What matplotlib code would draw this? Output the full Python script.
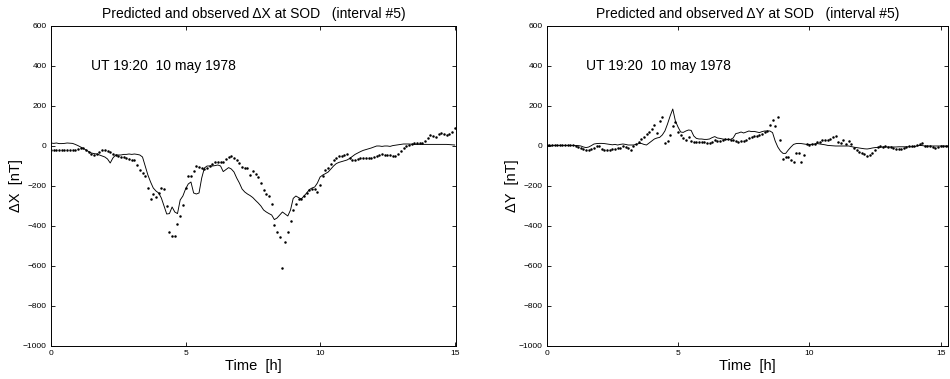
import numpy as np
import matplotlib
matplotlib.use("Agg")
import matplotlib.pyplot as plt

plt.rcParams['font.family'] = ['Liberation Sans', 'DejaVu Sans']

# ---- data (6-min samples, hours since UT 19:20) ----
dx_obs = [
    -18, -20, -20, -22, -22, -22, -20, -20, -18, -18, -15,
    -12, -10, -22, -30, -38, -45, -40, -30, -22, -18,
    -25, -30, -40, -45, -52, -55, -55, -60, -65, -70,
    -72, -95, -120, -135, -150, -210, -265, -240, -255, -235,
    -210, -215, -300, -430, -450, -450, -388, -350, -295, -210,
    -150, -150, -125, -100, -105, -110, -115, -110, -100, -88,
    -80, -78, -80, -78, -65, -55, -52, -58, -70, -85,
    -105, -110, -112, -145, -125, -140, -155, -185, -220, -240,
    -250, -290, -395, -430, -455, -610, -480, -430, -375, -320,
    -290, -265, -265, -250, -235, -220, -215, -215, -228, -195,
    -150, -120, -110, -90, -70, -58, -50, -48, -45, -40,
    -62, -72, -70, -65, -58, -60, -62, -60, -58, -56,
    -50, -45, -42, -44, -45, -46, -48, -50, -38, -25,
    -12, -2, 5, 12, 13, 13, 15, 17, 25, 38,
    55, 52, 47, 58, 67, 60, 55, 62, 72, 90,
]
dx_pred = [
    15, 13, 15, 12, 12, 13, 15, 14, 13, 8, 2,
    -5, -12, -20, -28, -35, -38, -40, -45, -50, -55,
    -65, -85, -60, -45, -45, -45, -42, -42, -40, -42,
    -40, -42, -45, -55, -100, -145, -180, -210, -225, -235,
    -260, -300, -340, -338, -305, -330, -338, -270, -250, -215,
    -190, -180, -235, -240, -235, -160, -110, -100, -100, -100,
    -98, -95, -100, -128, -118, -108, -115, -130, -160, -185,
    -215, -230, -240, -248, -258, -272, -285, -300, -320, -330,
    -338, -345, -368, -360, -345, -330, -340, -350, -320, -262,
    -250, -258, -265, -250, -235, -218, -210, -205, -185, -155,
    -145, -138, -130, -115, -100, -88, -82, -78, -74, -70,
    -62, -52, -42, -35, -28, -22, -18, -14, -10, -5,
    0, 0, -2, 0, 0, -2, 2, 4, 6, 8,
    10, 10, 10, 9, 8, 8, 8, 8, 8, 8,
    8, 8, 8, 8, 8, 8, 8, 7, 6, 5,
]
dy_obs = [
    5, 5, 4, 4, 4, 4, 5, 5, 6, 7, 6,
    2, -5, -10, -15, -18, -20, -16, -8, 0, 2,
    -15, -22, -20, -18, -16, -14, -12, -8, 0, -5,
    -12, -20, -2, 8, 20, 33, 45, 58, 72, 85,
    105, 65, 125, 145, 15, 27, 55, 100, 118, 72,
    55, 40, 30, 45, 25, 22, 20, 20, 18, 18,
    17, 17, 22, 28, 25, 25, 30, 33, 33, 30,
    28, 25, 22, 23, 25, 30, 42, 45, 48, 52,
    55, 62, 72, 75, 105, 132, 100, 143, 30, -67,
    -55, -57, -70, -80, -37, -33, -78, -45, 12, 5,
    8, 10, 18, 20, 30, 32, 28, 35, 43, 50,
    20, 15, 32, 12, 25, 10, -12, -18, -28, -35,
    -40, -52, -45, -35, -20, -5, -2, -3, -2, -3,
    -5, -12, -15, -17, -15, -12, -5, -2, 0, 2,
    5, 8, 13, 2, 0, -2, -3, -12, -5, 0,
    2, 0, -2,
]
dy_pred = [
    3, 3, 3, 3, 3, 3, 3, 3, 3, 3, 3,
    2, 2, 0, -5, -8, -5, 2, 10, 12, 13,
    13, 12, 10, 8, 6, 8, 5, 8, 10, 8,
    5, 5, 5, 8, 12, 13, 8, 5, 15, 25,
    35, 40, 43, 55, 75, 110, 150, 185, 125, 95,
    70, 68, 75, 80, 78, 50, 38, 35, 35, 33,
    33, 35, 42, 47, 40, 38, 35, 33, 33, 33,
    40, 62, 65, 70, 65, 70, 75, 72, 73, 70,
    67, 72, 75, 75, 75, 67, 25, -5, -25, -37,
    -37, -20, -5, 8, 12, 13, 12, 10, 8, 8,
    8, 10, 12, 10, 8, 6, 3, 2, 1, 0,
    0, 0, 0, 0, 0, -3, -6, -8, -10, -12,
    -14, -15, -13, -10, -8, -7, -6, -5, -5, -5,
    -5, -5, -5, -4, -4, -4, -4, -4, -4, -3,
    0, 3, 2, 0, 0, 0, 0, 0, 0, 0,
    0, 0, 0,
]
t_x = np.arange(len(dx_obs)) * 0.1
t_y = np.arange(len(dy_obs)) * 0.1

fig = plt.figure(figsize=(9.5, 3.79), dpi=100)
ax1 = fig.add_axes([0.0537, 0.0871, 0.4263, 0.8443])
ax2 = fig.add_axes([0.5755, 0.0871, 0.4229, 0.8443])

panels = [
    (ax1, t_x, dx_obs, dx_pred, 'X', 15.05),
    (ax2, t_y, dy_obs, dy_pred, 'Y', 15.3),
]
for ax, t, obs, pred, comp, xmax in panels:
    ax.plot(t, pred, color='black', lw=0.65)
    ax.plot(t, obs, 'o', color='black', ms=1.8, mew=0)
    ax.set_xlim(0, xmax)
    ax.set_ylim(-1000, 600)
    ax.set_xticks([0, 5, 10, 15])
    ax.set_yticks(np.arange(-1000, 601, 200))
    ax.tick_params(direction='in', length=3, width=0.6, labelsize=6,
                   top=True, right=True, pad=3)
    for s in ax.spines.values():
        s.set_linewidth(0.7)
    ax.set_title('Predicted and observed \u0394%s at SOD   (interval #5)' % comp,
                 fontsize=10, pad=6)
    ax.set_xlabel('Time  [h]', fontsize=10.5, labelpad=1)
    ax.set_ylabel('\u0394%s  [nT]' % comp, fontsize=10.5, labelpad=0)
    ax.text(1.5, 400, 'UT 19:20  10 may 1978', fontsize=10, va='center')

fig.savefig('out.png', dpi=100)
